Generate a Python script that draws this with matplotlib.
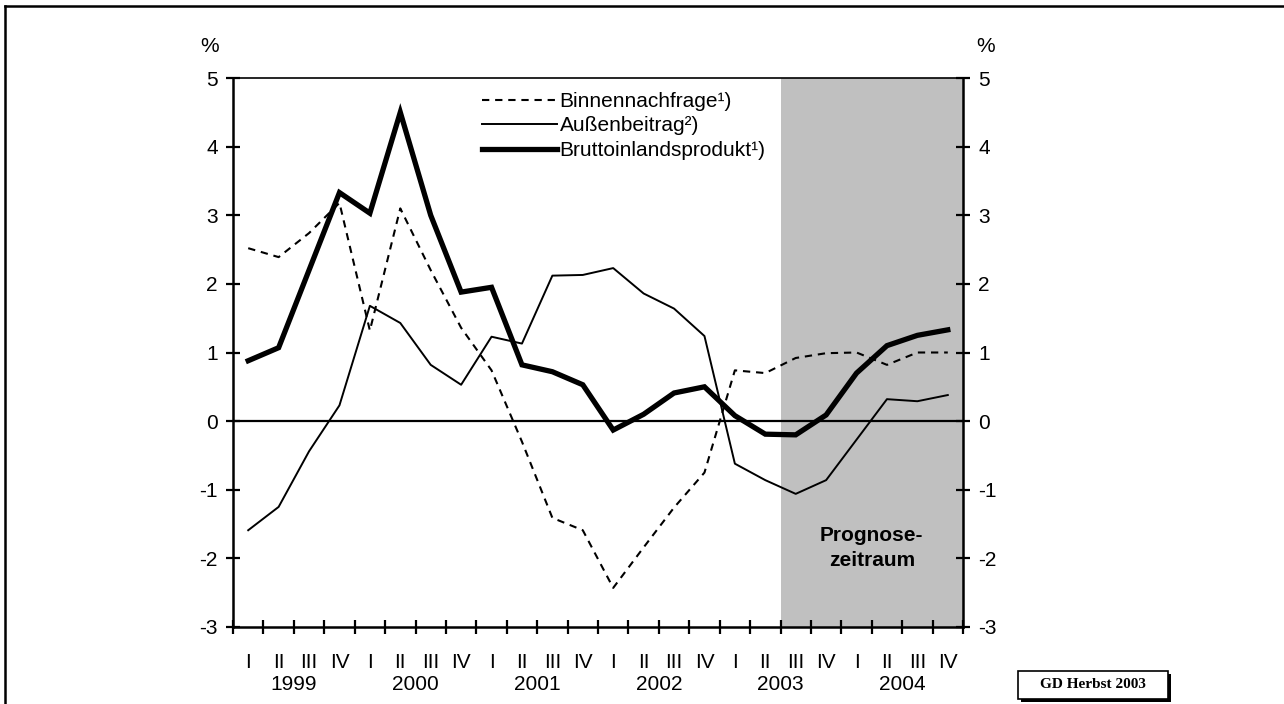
import numpy as np
import matplotlib.pyplot as plt
from matplotlib.patches import Rectangle
from matplotlib.lines import Line2D
from matplotlib.transforms import blended_transform_factory

plt.rcParams['font.family'] = ['Liberation Sans', 'DejaVu Sans']
plt.rcParams['axes.unicode_minus'] = False

# quarterly data 1999 I .. 2004 IV (in %)
quarters = ['I', 'II', 'III', 'IV'] * 6
years = ['1999', '2000', '2001', '2002', '2003', '2004']
binnen = [2.52, 2.39, 2.74, 3.18, 1.32, 3.10, 2.20, 1.36,
          0.74, -0.30, -1.41, -1.59, -2.43, -1.84, -1.26, -0.75,
          0.74, 0.70, 0.92, 0.99, 1.00, 0.82, 1.00, 1.00]
aussen = [-1.59, -1.25, -0.44, 0.23, 1.68, 1.43, 0.82, 0.53,
          1.23, 1.13, 2.12, 2.13, 2.23, 1.86, 1.64, 1.24,
          -0.62, -0.86, -1.06, -0.86, -0.27, 0.32, 0.29, 0.38]
bip = [0.88, 1.07, 2.20, 3.33, 3.03, 4.50, 3.00, 1.88,
       1.95, 0.82, 0.72, 0.53, -0.13, 0.10, 0.41, 0.50,
       0.08, -0.19, -0.20, 0.09, 0.70, 1.10, 1.25, 1.33]
forecast_start = 18  # 2003 III

x = np.arange(len(bip)) + 0.5
fs = 15

fig = plt.figure(figsize=(12.84, 7.04), dpi=100)
ax = fig.add_axes([233/1284, 77/704, 730/1284, 549/704])

ax.axvspan(forecast_start, len(bip), color='#c0c0c0', lw=0, zorder=0)
ax.axhline(0, color='black', lw=1.6, zorder=1)

ax.plot(x, binnen, color='black', lw=1.5, ls=(0, (3.5, 2.8)), label='Binnennachfrage¹)', zorder=3)
ax.plot(x, aussen, color='black', lw=1.4, label='Außenbeitrag²)', zorder=3)
ax.plot(x, bip, color='black', lw=3.8, label='Bruttoinlandsprodukt¹)', zorder=4,
        solid_joinstyle='miter')

ax.set_xlim(0, len(bip))
ax.set_ylim(-3, 5)
ax.set_yticks(range(-3, 6))
ax.set_xticks(range(len(bip) + 1))
ax.set_xticklabels([])
ax.set_xticks(x, minor=True)
ax.set_xticklabels(quarters, minor=True)
ax.tick_params(axis='x', which='major', direction='inout', length=10, width=1.6)
ax.tick_params(axis='x', which='minor', length=0, pad=19, labelsize=fs)
ax.tick_params(axis='y', direction='inout', length=10, width=1.6, pad=6,
               labelsize=fs, left=True, right=True, labelleft=True, labelright=True)

for s in ax.spines.values():
    s.set_linewidth(1.8)
ax.spines['top'].set_linewidth(1.2)

trans = blended_transform_factory(ax.transData, ax.transAxes)
for i, yr in enumerate(years):
    ax.text(i * 4 + 2, -0.105, yr, transform=trans, ha='center', va='center', fontsize=fs)

ax.text(21, -1.85, 'Prognose-\nzeitraum', ha='center', va='center', fontsize=fs,
        fontweight='bold', linespacing=1.35)

fig.text(210/1284, 1 - 47/704, '%', ha='center', va='center', fontsize=fs)
fig.text(986/1284, 1 - 47/704, '%', ha='center', va='center', fontsize=fs)

ax.legend(loc='upper left', bbox_to_anchor=(482/1284, 1 - 92/704),
          bbox_transform=fig.transFigure, frameon=False, fontsize=fs,
          handlelength=3.6, handletextpad=0.12, labelspacing=0.26,
          borderpad=0, borderaxespad=0)

# source box with shadow
fig.add_artist(Rectangle((1021/1284, 1 - 702/704), 150/1284, 28/704,
                         transform=fig.transFigure, facecolor='black', lw=0))
fig.add_artist(Rectangle((1018/1284, 1 - 699/704), 150/1284, 28/704,
                         transform=fig.transFigure, facecolor='white',
                         edgecolor='black', lw=1.2))
fig.text(1093/1284, 1 - 685/704, 'GD Herbst 2003', ha='center', va='center',
         fontsize=11, fontweight='bold', family=['Liberation Serif', 'DejaVu Serif'])

# outer frame (left and top edges)
fig.add_artist(Line2D([5/1284, 5/1284], [0, 1 - 6/704], transform=fig.transFigure,
                      color='black', lw=1.8))
fig.add_artist(Line2D([5/1284, 1], [1 - 6/704, 1 - 6/704], transform=fig.transFigure,
                      color='black', lw=1.8))

fig.savefig('out.png', dpi=100)
